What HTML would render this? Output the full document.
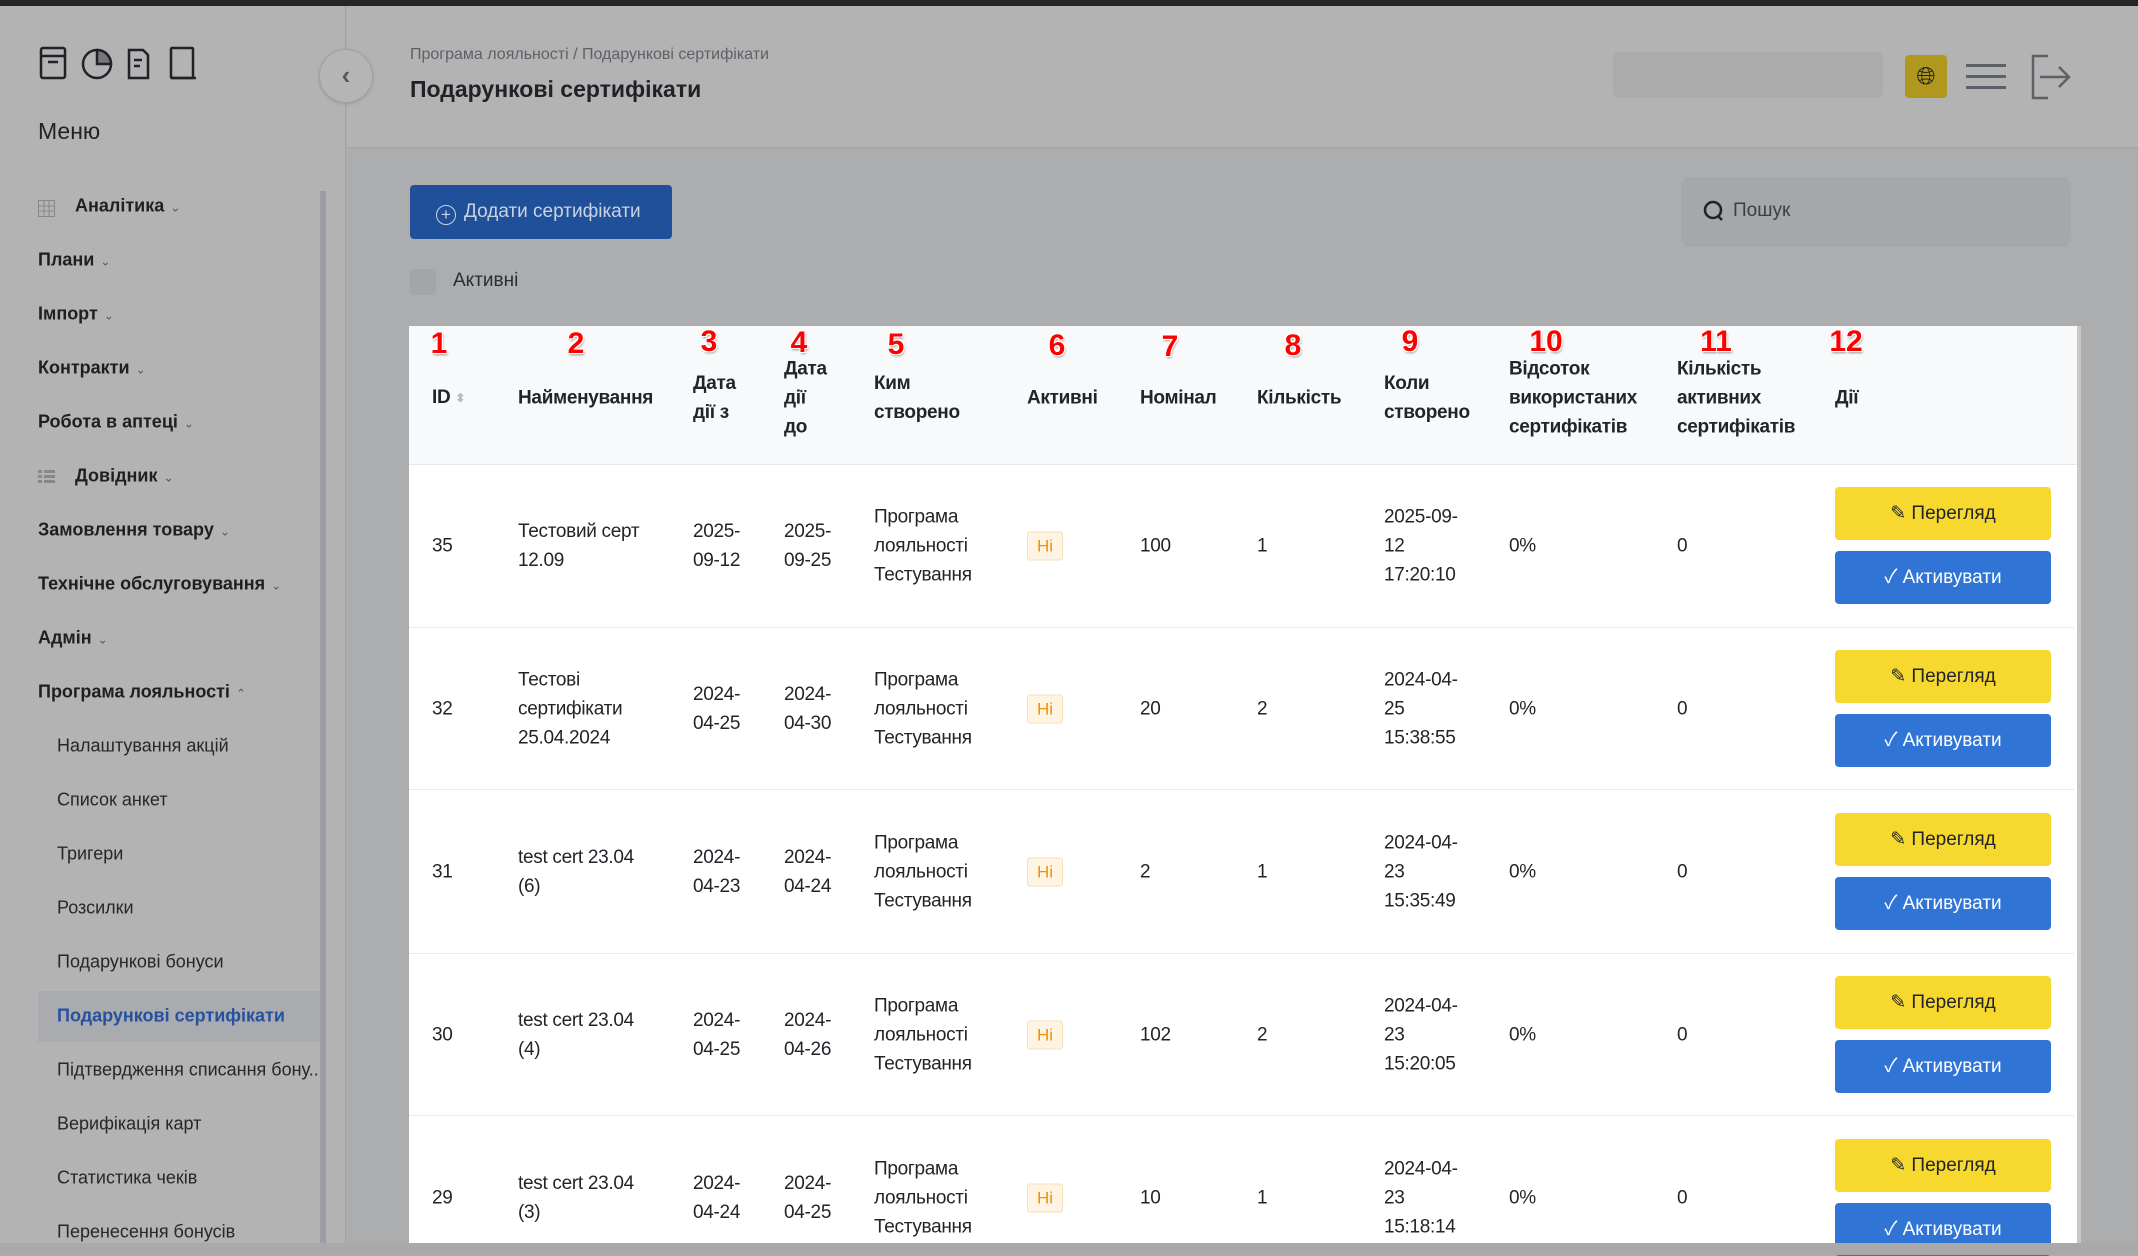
<!DOCTYPE html>
<html><head><meta charset="utf-8"><style>
*{margin:0;padding:0;box-sizing:border-box}
body{width:2138px;height:1255px;overflow:hidden;background:#acadae;font-family:"Liberation Sans","Noto Sans CJK SC",sans-serif;color:#212529;position:relative}
.a{position:absolute}
.topbar{left:0;top:0;width:2138px;height:6px;background:#262626}
.side{left:0;top:6px;width:346px;height:1249px;background:#b3b3b3;border-right:1px solid #a3a3a3}
.hdr{left:347px;top:6px;width:1791px;height:143px;background:#b3b3b3;border-bottom:2px solid #a6a6a6}
.mi{position:absolute;left:38px;font-size:18px;font-weight:bold;color:#1d1f22;transform:translateY(-50%)}
.mi .c{font-weight:normal;font-size:12px;color:#555;margin-left:6px}
.si{position:absolute;left:57px;font-size:18px;color:#25272a;transform:translateY(-50%);white-space:nowrap}
.tbl{left:409px;top:326px;width:1668px;height:917px;background:#fff}
.th{left:409px;top:326px;width:1668px;height:139px;background:#f8f9fa;border-bottom:1px solid #e6e7e9}
.cell{position:absolute;font-size:19px;line-height:29px;transform:translateY(-50%);letter-spacing:-0.3px}
.b{font-weight:bold}
.num{position:absolute;color:#f00;font-weight:bold;font-size:30px;transform:translate(-50%,-50%);text-shadow:1px 1px 0 #fff,-1px -1px 0 #fff,1px -1px 0 #fff,-1px 1px 0 #fff,1px 2px 2px #999}
.sep{position:absolute;left:409px;width:1665px;height:1px;background:#e9eaec}
.badge{position:absolute;left:1027px;width:36px;height:29px;background:#fff4e3;border:1px solid #f6dfb8;border-radius:3px;color:#f39200;font-size:17px;text-align:center;line-height:27px;transform:translateY(-50%)}
.btn{position:absolute;left:1835px;width:216px;height:53px;border-radius:4px;font-size:19px;text-align:center;line-height:53px}
.y{background:#f7d82f;color:#212529}
.bl{background:#3075d6;color:#fff}
</style></head><body>
<div class="a topbar"></div>
<div class="a side">
 <svg class="a" style="left:38px;top:38px" width="180" height="40" viewBox="0 0 180 40" fill="none" stroke="#1f2226" stroke-width="2.5">
  <rect x="3" y="4" width="24" height="30" rx="2"/><line x1="3" y1="12" x2="27" y2="12"/><line x1="10" y1="18" x2="20" y2="18"/>
  <circle cx="59" cy="20" r="14"/><path d="M59 6 A14 14 0 0 1 73 20 L59 20Z" fill="#777"/>
  <path d="M91 6 h14 l5 5 v23 h-19z"/><line x1="96" y1="16" x2="104" y2="16"/><line x1="96" y1="22" x2="102" y2="22"/>
  <rect x="133" y="4" width="22" height="30" rx="1"/><line x1="133" y1="34" x2="158" y2="34"/>
 </svg>
 <div class="a" style="left:38px;top:112px;font-size:23px;color:#1f2226">Меню</div>
 <svg class="a" style="left:38px;top:194px" width="17" height="17"><g stroke="#888" fill="none"><rect x="0.5" y="0.5" width="16" height="16"/><line x1="6" y1="0" x2="6" y2="17"/><line x1="11" y1="0" x2="11" y2="17"/><line x1="0" y1="6" x2="17" y2="6"/><line x1="0" y1="11" x2="17" y2="11"/></g></svg>
 <div class="mi" style="top:200px;left:75px">Аналітика<span class="c">⌄</span></div>
 <div class="mi" style="top:254px">Плани<span class="c">⌄</span></div>
 <div class="mi" style="top:308px">Імпорт<span class="c">⌄</span></div>
 <div class="mi" style="top:362px">Контракти<span class="c">⌄</span></div>
 <div class="mi" style="top:416px">Робота в аптеці<span class="c">⌄</span></div>
 <svg class="a" style="left:38px;top:463px" width="17" height="15"><g fill="#888"><rect x="0" y="1" width="4" height="3"/><rect x="6" y="1" width="11" height="3"/><rect x="0" y="6" width="4" height="3"/><rect x="6" y="6" width="11" height="3"/><rect x="0" y="11" width="4" height="3"/><rect x="6" y="11" width="11" height="3"/></g></svg>
 <div class="mi" style="top:470px;left:75px">Довідник<span class="c">⌄</span></div>
 <div class="mi" style="top:524px">Замовлення товару<span class="c">⌄</span></div>
 <div class="mi" style="top:578px">Технічне обслуговування<span class="c">⌄</span></div>
 <div class="mi" style="top:632px">Адмін<span class="c">⌄</span></div>
 <div class="mi" style="top:686px">Програма лояльності<span class="c">⌃</span></div>
 <div class="si" style="top:740px">Налаштування акцій</div>
 <div class="si" style="top:794px">Список анкет</div>
 <div class="si" style="top:848px">Тригери</div>
 <div class="si" style="top:902px">Розсилки</div>
 <div class="si" style="top:956px">Подарункові бонуси</div>
 <div class="a" style="left:38px;top:985px;width:282px;height:51px;background:#a9abae"></div>
 <div class="si" style="top:1010px;color:#2452a0;font-weight:bold">Подарункові сертифікати</div>
 <div class="si" style="top:1064px">Підтвердження списання бону...</div>
 <div class="si" style="top:1118px">Верифікація карт</div>
 <div class="si" style="top:1172px">Статистика чеків</div>
 <div class="si" style="top:1226px">Перенесення бонусів</div>
 <div class="a" style="left:320px;top:185px;width:6px;height:1052px;background:#9a9ea4"></div>
</div>
<div class="a hdr"></div>
<div class="a" style="left:319px;top:49px;width:54px;height:54px;border-radius:50%;background:#b5b5b5;border:1px solid #a0a0a0;box-shadow:0 1px 3px #999;text-align:center;line-height:50px;font-size:26px;color:#505a66;font-weight:bold">‹</div>
<div class="a" style="left:410px;top:46px;font-size:16px;color:#5c6168">Програма лояльності / Подарункові сертифікати</div>
<div class="a" style="left:410px;top:76px;font-size:23px;font-weight:bold;color:#1f2226">Подарункові сертифікати</div>
<div class="a" style="left:1613px;top:52px;width:270px;height:46px;background:#ababab;border-radius:5px"></div>
<div class="a" style="left:1905px;top:55px;width:42px;height:43px;background:#b0981f;border-radius:4px;text-align:center;line-height:43px;font-size:24px;color:#222">🌐︎</div>
<div class="a" style="left:1966px;top:64px;width:40px;height:3px;background:#5c6168;box-shadow:0 11px 0 #5c6168,0 22px 0 #5c6168"></div>
<svg class="a" style="left:2030px;top:54px" width="42" height="46" fill="none" stroke="#5c6168" stroke-width="2.5"><path d="M18 2 H3 V44 H18"/><line x1="10" y1="23" x2="39" y2="23"/><path d="M29 13 L39 23 L29 33"/></svg>
<div class="a" style="left:410px;top:185px;width:262px;height:54px;background:#21509a;border-radius:4px;color:#c9d3e2;font-size:19px;line-height:54px;padding-left:26px"><span style="display:inline-block;width:20px;height:20px;border:1.5px solid #c9d3e2;border-radius:50%;text-align:center;line-height:17px;font-size:17px;margin-right:8px;vertical-align:-3px">+</span>Додати сертифікати</div>
<div class="a" style="left:410px;top:269px;width:26px;height:26px;background:#a3a6a9;border-radius:4px"></div>
<div class="a" style="left:453px;top:270px;font-size:19px;color:#2a2d31">Активні</div>
<div class="a" style="left:1681px;top:177px;width:390px;height:70px;background:#a4a8ab;border-radius:10px"></div>
<svg class="a" style="left:1703px;top:200px" width="22" height="22" fill="none" stroke="#222" stroke-width="2.5"><circle cx="10" cy="10" r="8"/><line x1="15" y1="16" x2="19" y2="20"/></svg>
<div class="a" style="left:1733px;top:200px;font-size:19px;color:#3a3f47">Пошук</div>

<div class="a tbl"></div>
<div class="a th"></div>
<div class="a" style="left:2077px;top:326px;width:4px;height:917px;background:#c8c8c8"></div>
<div class="a" style="left:0;top:1243px;width:2138px;height:12px;background:#a9a9aa"></div>

<div class="num" style="left:439px;top:344px">1</div>
<div class="num" style="left:576px;top:344px">2</div>
<div class="num" style="left:709px;top:342px">3</div>
<div class="num" style="left:799px;top:343px">4</div>
<div class="num" style="left:896px;top:345px">5</div>
<div class="num" style="left:1057px;top:346px">6</div>
<div class="num" style="left:1170px;top:347px">7</div>
<div class="num" style="left:1293px;top:346px">8</div>
<div class="num" style="left:1410px;top:342px">9</div>
<div class="num" style="left:1546px;top:342px">10</div>
<div class="num" style="left:1716px;top:342px">11</div>
<div class="num" style="left:1846px;top:342px">12</div>

<div class="cell b" style="left:432px;top:398px">ID <span style="color:#bbb;font-size:12px;vertical-align:1px">⬍</span></div>
<div class="cell b" style="left:518px;top:398px">Найменування</div>
<div class="cell b" style="left:693px;top:398px">Дата<br>дії з</div>
<div class="cell b" style="left:784px;top:398px">Дата<br>дії<br>до</div>
<div class="cell b" style="left:874px;top:398px">Ким<br>створено</div>
<div class="cell b" style="left:1027px;top:398px">Активні</div>
<div class="cell b" style="left:1140px;top:398px">Номінал</div>
<div class="cell b" style="left:1257px;top:398px">Кількість</div>
<div class="cell b" style="left:1384px;top:398px">Коли<br>створено</div>
<div class="cell b" style="left:1509px;top:398px">Відсоток<br>використаних<br>сертифікатів</div>
<div class="cell b" style="left:1677px;top:398px">Кількість<br>активних<br>сертифікатів</div>
<div class="cell b" style="left:1835px;top:398px">Дії</div>

<!-- rows -->
<div class="sep" style="top:627px"></div>
<div class="sep" style="top:789px"></div>
<div class="sep" style="top:953px"></div>
<div class="sep" style="top:1115px"></div>

<!-- row1 -->
<div class="cell" style="left:432px;top:546px">35</div>
<div class="cell" style="left:518px;top:546px">Тестовий серт<br>12.09</div>
<div class="cell" style="left:693px;top:546px">2025-<br>09-12</div>
<div class="cell" style="left:784px;top:546px">2025-<br>09-25</div>
<div class="cell" style="left:874px;top:546px">Програма<br>лояльності<br>Тестування</div>
<div class="badge" style="top:546px">Ні</div>
<div class="cell" style="left:1140px;top:546px">100</div>
<div class="cell" style="left:1257px;top:546px">1</div>
<div class="cell" style="left:1384px;top:546px">2025-09-<br>12<br>17:20:10</div>
<div class="cell" style="left:1509px;top:546px">0%</div>
<div class="cell" style="left:1677px;top:546px">0</div>
<div class="btn y" style="top:487px">✎ Перегляд</div>
<div class="btn bl" style="top:551px">✓ Активувати</div>
<!-- row2 -->
<div class="cell" style="left:432px;top:709px">32</div>
<div class="cell" style="left:518px;top:709px">Тестові<br>сертифікати<br>25.04.2024</div>
<div class="cell" style="left:693px;top:709px">2024-<br>04-25</div>
<div class="cell" style="left:784px;top:709px">2024-<br>04-30</div>
<div class="cell" style="left:874px;top:709px">Програма<br>лояльності<br>Тестування</div>
<div class="badge" style="top:709px">Ні</div>
<div class="cell" style="left:1140px;top:709px">20</div>
<div class="cell" style="left:1257px;top:709px">2</div>
<div class="cell" style="left:1384px;top:709px">2024-04-<br>25<br>15:38:55</div>
<div class="cell" style="left:1509px;top:709px">0%</div>
<div class="cell" style="left:1677px;top:709px">0</div>
<div class="btn y" style="top:650px">✎ Перегляд</div>
<div class="btn bl" style="top:714px">✓ Активувати</div>
<!-- row3 -->
<div class="cell" style="left:432px;top:872px">31</div>
<div class="cell" style="left:518px;top:872px">test cert 23.04<br>(6)</div>
<div class="cell" style="left:693px;top:872px">2024-<br>04-23</div>
<div class="cell" style="left:784px;top:872px">2024-<br>04-24</div>
<div class="cell" style="left:874px;top:872px">Програма<br>лояльності<br>Тестування</div>
<div class="badge" style="top:872px">Ні</div>
<div class="cell" style="left:1140px;top:872px">2</div>
<div class="cell" style="left:1257px;top:872px">1</div>
<div class="cell" style="left:1384px;top:872px">2024-04-<br>23<br>15:35:49</div>
<div class="cell" style="left:1509px;top:872px">0%</div>
<div class="cell" style="left:1677px;top:872px">0</div>
<div class="btn y" style="top:813px">✎ Перегляд</div>
<div class="btn bl" style="top:877px">✓ Активувати</div>
<!-- row4 -->
<div class="cell" style="left:432px;top:1035px">30</div>
<div class="cell" style="left:518px;top:1035px">test cert 23.04<br>(4)</div>
<div class="cell" style="left:693px;top:1035px">2024-<br>04-25</div>
<div class="cell" style="left:784px;top:1035px">2024-<br>04-26</div>
<div class="cell" style="left:874px;top:1035px">Програма<br>лояльності<br>Тестування</div>
<div class="badge" style="top:1035px">Ні</div>
<div class="cell" style="left:1140px;top:1035px">102</div>
<div class="cell" style="left:1257px;top:1035px">2</div>
<div class="cell" style="left:1384px;top:1035px">2024-04-<br>23<br>15:20:05</div>
<div class="cell" style="left:1509px;top:1035px">0%</div>
<div class="cell" style="left:1677px;top:1035px">0</div>
<div class="btn y" style="top:976px">✎ Перегляд</div>
<div class="btn bl" style="top:1040px">✓ Активувати</div>
<!-- row5 -->
<div class="cell" style="left:432px;top:1198px">29</div>
<div class="cell" style="left:518px;top:1198px">test cert 23.04<br>(3)</div>
<div class="cell" style="left:693px;top:1198px">2024-<br>04-24</div>
<div class="cell" style="left:784px;top:1198px">2024-<br>04-25</div>
<div class="cell" style="left:874px;top:1198px">Програма<br>лояльності<br>Тестування</div>
<div class="badge" style="top:1198px">Ні</div>
<div class="cell" style="left:1140px;top:1198px">10</div>
<div class="cell" style="left:1257px;top:1198px">1</div>
<div class="cell" style="left:1384px;top:1198px">2024-04-<br>23<br>15:18:14</div>
<div class="cell" style="left:1509px;top:1198px">0%</div>
<div class="cell" style="left:1677px;top:1198px">0</div>
<div class="btn y" style="top:1139px">✎ Перегляд</div>
<div class="btn bl" style="top:1203px">✓ Активувати</div>
<div class="a" style="left:0;top:1243px;width:2138px;height:12px;background:#a9a9aa"></div>
</body></html>
